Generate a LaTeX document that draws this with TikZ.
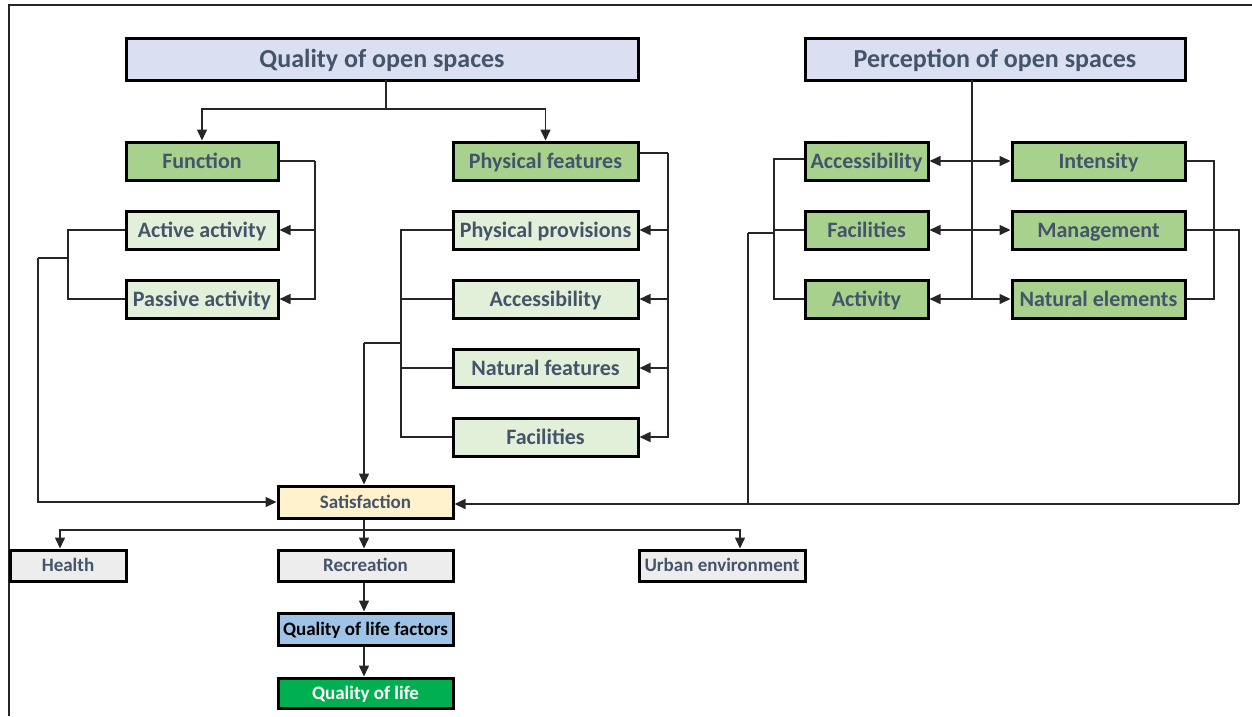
\documentclass[tikz,border=0pt]{standalone}
\usepackage{fontspec}
\setmainfont{Carlito}
\usetikzlibrary{arrows.meta}
\definecolor{txt}{HTML}{44546A}
\definecolor{hdr}{HTML}{DAE0F2}
\definecolor{grn}{HTML}{A9D18E}
\definecolor{lgrn}{HTML}{E2F0D9}
\definecolor{satc}{HTML}{FFF2CC}
\definecolor{gry}{HTML}{EDEDED}
\definecolor{blu}{HTML}{9DC3E6}
\definecolor{dgrn}{HTML}{00B050}
\definecolor{ln}{HTML}{262626}
\begin{document}
\begin{tikzpicture}[x=1pt,y=-1pt,
  box/.style={draw=black, line width=3pt, inner sep=0pt, text=txt, text height=15.8pt, text depth=1.8pt, font=\bfseries\fontsize{22}{26}\selectfont},
  hbox/.style={box, fill=hdr, minimum height=42pt, text height=18.7pt, text depth=2.1pt, font=\bfseries\fontsize{26}{31}\selectfont},
  gbox/.style={box, fill=grn, minimum height=38pt},
  lbox/.style={box, fill=lgrn, minimum height=38pt},
  sbox/.style={box, minimum width=175pt, minimum height=31pt, text height=13.7pt, text depth=1.5pt, font=\bfseries\fontsize{19}{23}\selectfont},
  conn/.style={draw=ln, line width=1.5pt},
  arr/.style={conn, -{Triangle[length=11pt,width=10pt]}},
  dbl/.style={conn, {Triangle[length=11pt,width=10pt]}-{Triangle[length=11pt,width=10pt]}}
]
\useasboundingbox (0,0) rectangle (1252,716);
% outer frame
\coordinate (f1) at (9,716);
\coordinate (f2) at (9,5);
\coordinate (f3) at (1252,5);
\draw[draw=ln, line width=1.8pt] (f1) -- (f2) -- (f3);

% headers
\node[hbox, minimum width=512pt] (qos) at (382,59) {Quality of open spaces};
\node[hbox, minimum width=380pt] (pos) at (995,59) {Perception of open spaces};

% function group
\node[gbox, minimum width=152pt] (func) at (202,161) {Function};
\node[lbox, minimum width=152pt] (act) at (202,230) {Active activity};
\node[lbox, minimum width=152pt] (pas) at (202,299) {Passive activity};

% physical group
\node[gbox, minimum width=185pt] (phys) at (545.5,161) {Physical features};
\node[lbox, minimum width=185pt] (pprov) at (545.5,230) {Physical provisions};
\node[lbox, minimum width=185pt] (acc1) at (545.5,299) {Accessibility};
\node[lbox, minimum width=185pt] (nat) at (545.5,368) {Natural features};
\node[lbox, minimum width=185pt] (fac1) at (545.5,437) {Facilities};

% perception group
\node[gbox, minimum width=123pt] (acc2) at (866.5,161) {Accessibility};
\node[gbox, minimum width=123pt] (fac2) at (866.5,230) {Facilities};
\node[gbox, minimum width=123pt] (actv) at (866.5,299) {Activity};
\node[gbox, minimum width=173pt] (inten) at (1098.5,161) {Intensity};
\node[gbox, minimum width=173pt] (mgmt) at (1098.5,230) {Management};
\node[gbox, minimum width=173pt] (natel) at (1098.5,299) {Natural elements};

% bottom
\node[sbox, fill=satc, minimum height=32pt] (satis) at (365.5,502) {Satisfaction};
\node[sbox, fill=gry, minimum width=116pt] (health) at (68,565.5) {Health};
\node[sbox, fill=gry] (recr) at (365.5,565.5) {Recreation};
\node[sbox, fill=gry, minimum width=166pt] (urban) at (722,565.5) {Urban environment};
\node[sbox, fill=blu, text=black, minimum height=32pt] (qolf) at (365.5,629) {Quality of life factors};
\node[sbox, fill=dgrn, text=white, minimum height=30pt] (qol) at (365.5,693) {Quality of life};

% header to level 1
\coordinate (q1) at (386,80);
\coordinate (q2) at (386,109);
\draw[conn] (q1) -- (q2);
\draw[arr] (q2) -| (func.north);
\draw[arr] (q2) -| (phys.north);

% function right bracket
\coordinate (fr) at (315,161);
\draw[conn] (func.east) -- (fr);
\draw[arr] (fr) |- (act.east);
\draw[arr] (fr) |- (pas.east);

% activity left bracket
\coordinate (al) at (68,258);
\coordinate (alb) at (38,258);
\draw[conn] (act.west) -| (al) |- (pas.west);
\draw[conn] (al) -- (alb);
\draw[arr] (alb) |- (satis.west);

% physical right bracket
\coordinate (pr) at (668,153);
\draw[conn] (phys.east |- pr) -- (pr);
\draw[arr] (pr) |- (pprov.east);
\draw[arr] (pr) |- (acc1.east);
\draw[arr] (pr) |- (nat.east);
\draw[arr] (pr) |- (fac1.east);

% physical left bracket
\coordinate (pl) at (401,230);
\coordinate (pm) at (401,343);
\coordinate (pmb) at (364,343);
\draw[conn] (pprov.west) -- (pl) |- (fac1.west);
\draw[conn] (acc1.west) -- (acc1.west -| pl);
\draw[conn] (nat.west) -- (nat.west -| pl);
\draw[conn] (pm) -- (pmb);
\draw[arr] (pmb) -- (pmb |- satis.north);

% perception
\coordinate (pv1) at (972,80);
\coordinate (pv2) at (972,299);
\draw[conn] (pv1) -- (pv2);
\draw[dbl] (acc2.east) -- (inten.west);
\draw[dbl] (fac2.east) -- (mgmt.west);
\draw[dbl] (actv.east) -- (natel.west);

% perception left bracket
\coordinate (rl) at (774,159);
\coordinate (rlm) at (774,233);
\coordinate (rlb) at (748,233);
\draw[conn] (acc2.west |- rl) -- (rl) |- (actv.west);
\draw[conn] (fac2.west) -- (fac2.west -| rl);
\draw[conn] (rlm) -- (rlb);

% perception right bracket
\coordinate (rr) at (1214,161);
\draw[conn] (inten.east) -- (rr) |- (natel.east);
\coordinate (mr) at (1239,230);
\coordinate (mrb) at (1239,504);
\draw[conn] (mgmt.east) -- (mr) -- (mrb);
\draw[conn] (rlb) -- (rlb |- mrb);
\draw[arr] (mrb) -- (satis.east |- mrb);

% satisfaction down
\coordinate (sb) at (364,530);
\draw[arr] (satis.south -| sb) -- (recr.north -| sb);
\coordinate (hb) at (60,530);
\coordinate (ub) at (740,530);
\draw[arr] (sb) -- (hb) -- (hb |- health.north);
\draw[arr] (sb) -- (ub) -- (ub |- urban.north);
\draw[arr] (recr.south -| sb) -- (qolf.north -| sb);
\draw[arr] (qolf.south -| sb) -- (qol.north -| sb);
\end{tikzpicture}
\end{document}
